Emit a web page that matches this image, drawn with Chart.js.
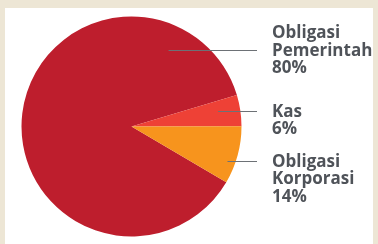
<!DOCTYPE html>
<html>
<head>
<meta charset="utf-8">
<script src="https://cdn.jsdelivr.net/npm/chart.js@4"></script>
<style>
  html, body { margin: 0; padding: 0; }
  body { width: 378px; height: 244px; background: #ede6d5; position: relative; overflow: hidden; }
  .panel { position: absolute; left: 5px; top: 8px; width: 368px; height: 236px; background: #fff; }
  #chart { position: absolute; left: 0; top: 0; }
</style>
</head>
<body>
<div class="panel"></div>
<canvas id="chart" width="378" height="244"></canvas>
<script>
// ===== Data =====
const categories = ['Obligasi Pemerintah', 'Kas', 'Obligasi Korporasi'];
const labelLines = [['Obligasi', 'Pemerintah'], ['Kas'], ['Obligasi', 'Korporasi']];
const labelPercents = [80, 6, 14];
// slice sizes as drawn in the picture (share of the full circle)
const drawnShares = [86.9, 4.6, 8.5];
const sliceColors = ['#be1e2d', '#ee4136', '#f7941d'];

// label placement: line y, which text line the leader points at, leader start radius
const labelLayout = [
  { y: 50, anchorLine: 1, r: 85 },
  { y: 111, anchorLine: 0, r: 88 },
  { y: 161, anchorLine: 0, r: 102 }
];

const TEXT_X = 272;
const LINE_END_X = 257;
const LINE_H = 17.5;

const calloutPlugin = {
  id: 'callouts',
  afterDatasetsDraw(chart) {
    const ctx = chart.ctx;
    const arc = chart.getDatasetMeta(0).data[0];
    const cx = arc.x, cy = arc.y;
    ctx.save();
    ctx.font = 'bold 17px "Open Sans"';
    ctx.textBaseline = 'middle';
    categories.forEach((c, i) => {
      const lay = labelLayout[i];
      const dy = lay.y - cy;
      const startX = cx + Math.sqrt(Math.max(lay.r * lay.r - dy * dy, 0));
      ctx.strokeStyle = '#6d7176';
      ctx.lineWidth = 1;
      ctx.beginPath();
      ctx.moveTo(startX, lay.y + 0.5);
      ctx.lineTo(LINE_END_X, lay.y + 0.5);
      ctx.stroke();
      const lines = labelLines[i].concat([labelPercents[i] + '%']);
      ctx.fillStyle = '#4f5359';
      lines.forEach((t, k) => {
        ctx.fillText(t, TEXT_X, lay.y + 1 + (k - lay.anchorLine) * LINE_H);
      });
    });
    ctx.restore();
  }
};

new Chart(document.getElementById('chart'), {
  type: 'pie',
  data: {
    labels: categories,
    datasets: [{
      data: drawnShares,
      backgroundColor: sliceColors,
      borderWidth: 0
    }]
  },
  options: {
    responsive: false,
    animation: false,
    rotation: 120.5,
    layout: { padding: { left: 21, right: 136, top: 16.5, bottom: 7.5 } },
    plugins: { legend: { display: false }, tooltip: { enabled: false } }
  },
  plugins: [calloutPlugin]
});
</script>
</body>
</html>
